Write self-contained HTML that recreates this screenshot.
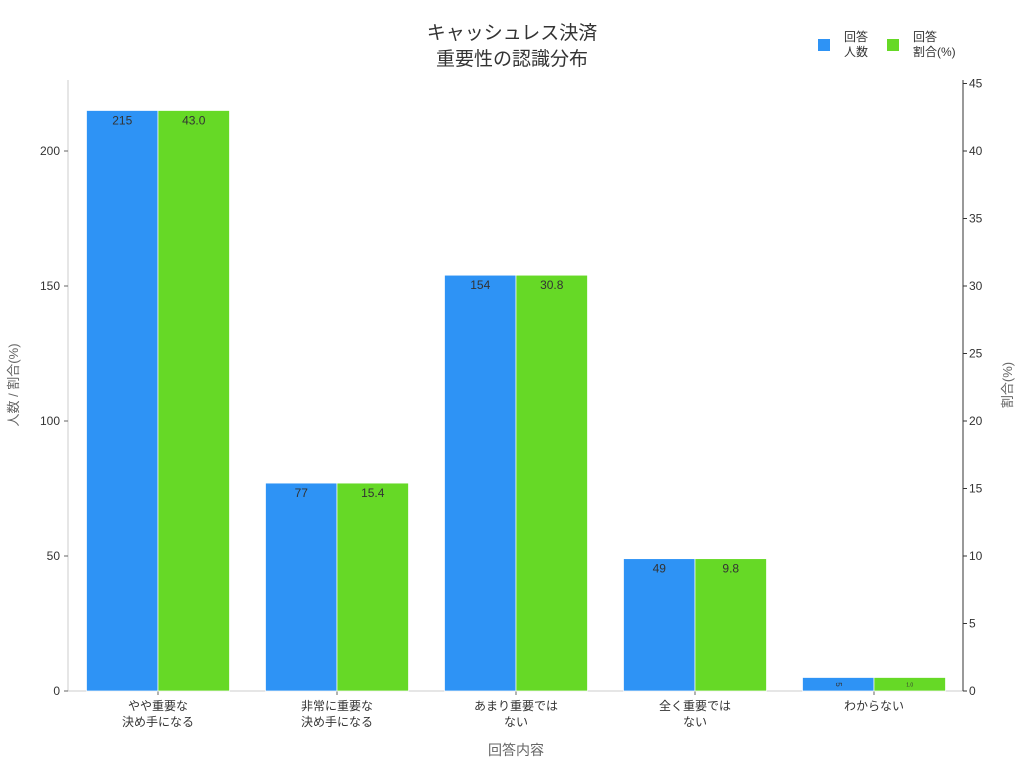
<!DOCTYPE html>
<html><head><meta charset="utf-8"><style>
body{margin:0;background:#fff;font-family:"Liberation Sans","Noto Sans CJK JP",sans-serif}
svg text{font-family:"Liberation Sans","Noto Sans CJK JP",sans-serif}
</style></head><body>
<svg id="c" width="1024" height="768" xmlns="http://www.w3.org/2000/svg">
<text x="512" y="39" text-anchor="middle" font-size="19" fill="#333">キャッシュレス決済</text>
<text x="512" y="65" text-anchor="middle" font-size="19" fill="#333">重要性の認識分布</text>
<g>
<rect x="818" y="39" width="12" height="12" fill="#2e93f5"/>
<text x="844" y="41" font-size="12" fill="#333"><tspan x="844">回答</tspan><tspan x="844" dy="15">人数</tspan></text>
<rect x="887" y="39" width="12" height="12" fill="#66d926"/>
<text x="913" y="41" font-size="12" fill="#333"><tspan x="913">回答</tspan><tspan x="913" dy="15">割合(%)</tspan></text>
</g>
<g id="axes"></g><g id="bars"></g>
<text x="516" y="755" text-anchor="middle" font-size="14" fill="#666">回答内容</text>
<text transform="translate(18,385) rotate(-90)" text-anchor="middle" font-size="13" fill="#666">人数 / 割合(%)</text>
<text transform="translate(1012,385) rotate(-90)" text-anchor="middle" font-size="13" fill="#666">割合(%)</text>
</svg>
<script>
const categories=[["やや重要な","決め手になる"],["非常に重要な","決め手になる"],["あまり重要では","ない"],["全く重要では","ない"],["わからない"]];
const counts=[215,77,154,49,5];
const percents=[43.0,15.4,30.8,9.8,1.0];
const leftTicks=[0,50,100,150,200];
const rightTicks=[0,5,10,15,20,25,30,35,40,45];
const NS="http://www.w3.org/2000/svg";
const x0=68,x1=963,yb=691;
const yL=v=>yb-v*2.7, yR=v=>yb-v*13.5;
const step=179, cx=i=>158+i*step, bw=71.5;
function mk(t,a,p){const e=document.createElementNS(NS,t);for(const k in a)e.setAttribute(k,a[k]);p.appendChild(e);return e;}
const ax=document.getElementById('axes'), bg=document.getElementById('bars');
let l=mk('line',{x1:x0,x2:x0,y1:80,y2:yb,stroke:'#ccc'},ax);


l=mk('line',{x1:x0,x2:x1,y1:yb,y2:yb,stroke:'#ccc'},ax);


l=mk('line',{x1:x1,x2:x1,y1:80,y2:yb,stroke:'#333'},ax);


leftTicks.forEach(v=>{const y=yL(v);mk('line',{x1:x0-4,x2:x0,y1:y,y2:y,stroke:'#666'},ax);
const t=mk('text',{x:x0-8,y:y+4,'text-anchor':'end','font-size':12,fill:'#333'},ax);t.textContent=v;

});
rightTicks.forEach(v=>{const y=yR(v);mk('line',{x1:x1,x2:x1+4,y1:y,y2:y,stroke:'#333'},ax);
const t=mk('text',{x:x1+6,y:y+4,'font-size':12,fill:'#333'},ax);t.textContent=v;

});
categories.forEach((c,i)=>{const x=cx(i);mk('line',{x1:x,x2:x,y1:yb,y2:yb+4,stroke:'#666'},ax);
const t=mk('text',{x:x,y:yb+19,'text-anchor':'middle','font-size':12,fill:'#333'},ax);
c.forEach((s,j)=>{const ts=mk('tspan',{x:x,dy:j?16:0},t);ts.textContent=s;});


const b=mk('rect',{x:x-bw,y:yL(counts[i]),width:bw,height:yb-yL(counts[i]),fill:'#2e93f5',stroke:'#fff','stroke-width':0.7},bg);


const g=mk('rect',{x:x,y:yR(percents[i]),width:bw,height:yb-yR(percents[i]),fill:'#66d926',stroke:'#fff','stroke-width':0.7},bg);


const small=yb-yL(counts[i])<20;
const lt=mk('text',{x:x-bw/2,y:yL(counts[i])+14,'text-anchor':'middle','font-size':small?8:12,fill:'#333'},bg);lt.textContent=counts[i];
if(small){lt.setAttribute('y',yL(counts[i])+7);lt.setAttribute('transform',`rotate(90 ${x-bw/2} ${yL(counts[i])+7})`);lt.setAttribute('dominant-baseline','middle');}


const pt=mk('text',{x:x+bw/2,y:yR(percents[i])+(small?9:14),'text-anchor':'middle','font-size':small?5:12,fill:'#333'},bg);pt.textContent=percents[i].toFixed(1);

});
</script>
</body></html>
